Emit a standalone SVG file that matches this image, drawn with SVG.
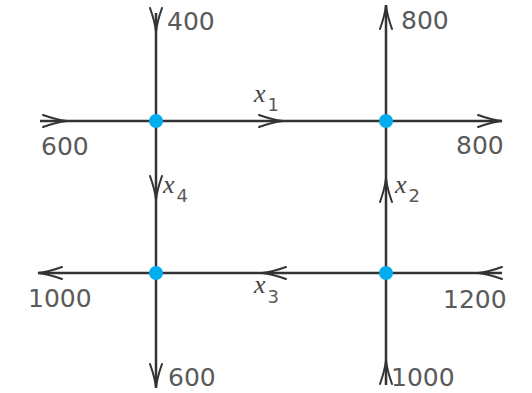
<svg xmlns="http://www.w3.org/2000/svg" xmlns:xlink="http://www.w3.org/1999/xlink" width="532" height="393" viewBox="0 0 532 393">
  <style>
    .ln { stroke: #333; stroke-width: 2.5; fill: none; }
    .ah { stroke: #333; stroke-width: 2; fill: none; stroke-linecap: round; }
    .dot { fill: #00aeef; }
    .num { font-family: "DejaVu Sans", sans-serif; font-size: 25px; fill: #5a5a5a; }
    .var { font-family: "Liberation Serif", serif; font-style: italic; font-size: 26px; fill: #444; }
    .sub { font-family: "DejaVu Sans", sans-serif; font-size: 18px; fill: #5a5a5a; }
  </style>
  <defs>
    <path id="ah" class="ah" d="M-24,-6 Q-10,-1 0,0 Q-10,1 -24,6"/>
  </defs>
  <rect width="532" height="393" fill="#fff"/>
  <g id="connectors">
    <path class="ln" d="M156,13 V388"/>
    <path class="ln" d="M386,5 V385"/>
    <path class="ln" d="M40,121 H502"/>
    <path class="ln" d="M38,273 H502"/>
    <use href="#ah" transform="translate(156,32) rotate(90)"/>
    <use href="#ah" transform="translate(156,200) rotate(90)"/>
    <use href="#ah" transform="translate(156,388) rotate(90)"/>
    <use href="#ah" transform="translate(386,5) rotate(-90)"/>
    <use href="#ah" transform="translate(386,178) rotate(-90)"/>
    <use href="#ah" transform="translate(386,360) rotate(-90)"/>
    <use href="#ah" transform="translate(67,121)"/>
    <use href="#ah" transform="translate(283,121)"/>
    <use href="#ah" transform="translate(502,121)"/>
    <use href="#ah" transform="translate(38,273) rotate(180)"/>
    <use href="#ah" transform="translate(262,273) rotate(180)"/>
    <use href="#ah" transform="translate(478,273) rotate(180)"/>
  </g>
  <g id="labels">
    <text class="num" x="167" y="30">400</text>
    <text class="num" x="401" y="29">800</text>
    <text class="num" x="41" y="155">600</text>
    <text class="num" x="456" y="154">800</text>
    <text class="num" x="28" y="307">1000</text>
    <text class="num" x="443" y="308">1200</text>
    <text class="num" x="168" y="386">600</text>
    <text class="num" x="391" y="386">1000</text>
    <text x="254" y="102"><tspan class="var">x</tspan><tspan class="sub" dx="2" dy="9">1</tspan></text>
    <text x="163" y="193"><tspan class="var">x</tspan><tspan class="sub" dx="2" dy="9">4</tspan></text>
    <text x="395" y="193"><tspan class="var">x</tspan><tspan class="sub" dx="2" dy="9">2</tspan></text>
    <text x="254" y="293"><tspan class="var">x</tspan><tspan class="sub" dx="2" dy="10">3</tspan></text>
  </g>
  <g id="n1"><circle class="dot" cx="156" cy="121" r="7"/></g>
  <g id="n2"><circle class="dot" cx="386" cy="121" r="7"/></g>
  <g id="n3"><circle class="dot" cx="156" cy="273" r="7"/></g>
  <g id="n4"><circle class="dot" cx="386" cy="273" r="7"/></g>
</svg>
